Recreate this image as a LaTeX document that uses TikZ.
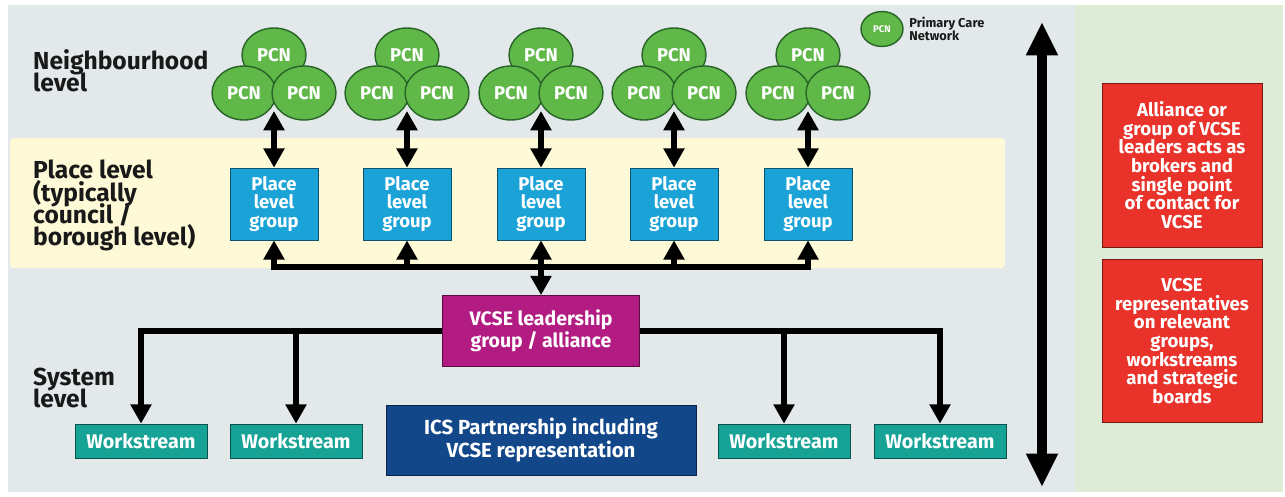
\documentclass[tikz,border=0pt]{standalone}
\usepackage{fontspec}
\setmainfont{Fira Sans}
\definecolor{panelgrey}{RGB}{227, 233, 235}
\definecolor{panelgreen}{RGB}{222, 235, 214}
\definecolor{placeyellow}{RGB}{254, 249, 214}
\definecolor{pcngreen}{RGB}{95, 184, 72}
\definecolor{pcnedge}{RGB}{40, 100, 40}
\definecolor{placeblue}{RGB}{27, 163, 216}
\definecolor{leadmagenta}{RGB}{178, 28, 130}
\definecolor{icsnavy}{RGB}{18, 72, 138}
\definecolor{wsteal}{RGB}{22, 163, 150}
\definecolor{brokerred}{RGB}{232, 50, 42}
\definecolor{inkdark}{RGB}{25, 25, 25}
\usetikzlibrary{shapes, arrows.meta, positioning, calc}

\begin{document}
\begin{tikzpicture}[x=0.02cm, y=-0.02cm,
  pcn/.style={ellipse, draw=pcnedge, line width=0.8pt, fill=pcngreen, minimum width=1.28cm, minimum height=1.08cm, inner sep=0pt, text=white, font=\fontsize{10.5}{11}\selectfont\bfseries},
  placebox/.style={draw=placeblue!50!black, fill=placeblue, minimum width=1.76cm, minimum height=1.44cm, align=center, text=white, font=\fontsize{10.5}{10.4}\selectfont\bfseries},
  wsbox/.style={draw=wsteal!50!black, fill=wsteal, minimum width=2.64cm, minimum height=0.68cm, text=white, font=\fontsize{11.2}{12}\selectfont\bfseries},
  redbox/.style={draw=brokerred!50!black, fill=brokerred, minimum width=3.2cm, align=center, text=white, font=\fontsize{10.6}{10.6}\selectfont\bfseries},
  levellabel/.style={anchor=north west, align=left, text=inkdark, font={\fontsize{14}{12.6}\selectfont\lineskiplimit-6pt\relax\bfseries}},
  link/.style={line width=3pt, -{Triangle[width=11.5pt, length=11pt]}},
  dlink/.style={line width=3pt, {Triangle[width=11.5pt, length=11pt]}-{Triangle[width=11.5pt, length=11pt]}},
]
  \useasboundingbox (0,0) rectangle (1285,497);

  % Background panels
  \fill[panelgrey] (8,5) rectangle (1075,492);
  \fill[panelgreen] (1075,5) rectangle (1283,492);
  \fill[placeyellow, rounded corners=2pt] (10,138) rectangle (1005,268);

  % Level labels
  \node[levellabel] (nbhd) at (27,43) {Neighbourhood\\level};
  \node[levellabel] (placelbl) at (27,154) {Place level\\(typically\\council /\\borough level)};
  \node[levellabel] (syslbl) at (27,362) {System\\level};

  % Legend
  \node[pcn, minimum width=0.84cm, minimum height=0.7cm, font=\fontsize{5.5}{6}\selectfont\bfseries] (legpcn) at (882,29) {PCN};
  \node[right=3pt of legpcn, align=left, inner sep=0pt, text=inkdark, font=\fontsize{7.3}{7.3}\selectfont\bfseries] (legtext) {Primary Care\\Network};

  % PCN clusters
  \node[pcn] (pcn1a) at (274,55) {PCN};
  \node[pcn] (pcn1b) at (244,93) {PCN};
  \node[pcn] (pcn1c) at (304,93) {PCN};
  \node[pcn] (pcn2a) at (407,55) {PCN};
  \node[pcn] (pcn2b) at (377,93) {PCN};
  \node[pcn] (pcn2c) at (437,93) {PCN};
  \node[pcn] (pcn3a) at (541,55) {PCN};
  \node[pcn] (pcn3b) at (511,93) {PCN};
  \node[pcn] (pcn3c) at (571,93) {PCN};
  \node[pcn] (pcn4a) at (674,55) {PCN};
  \node[pcn] (pcn4b) at (644,93) {PCN};
  \node[pcn] (pcn4c) at (704,93) {PCN};
  \node[pcn] (pcn5a) at (808,55) {PCN};
  \node[pcn] (pcn5b) at (778,93) {PCN};
  \node[pcn] (pcn5c) at (838,93) {PCN};
  \coordinate (pcn1) at (274,111);
  \coordinate (pcn2) at (407,111);
  \coordinate (pcn3) at (541,111);
  \coordinate (pcn4) at (674,111);
  \coordinate (pcn5) at (808,111);

  % Place level groups
  \node[placebox] (pl1) at (274,204) {Place\\level\\group};
  \node[placebox] (pl2) at (407,204) {Place\\level\\group};
  \node[placebox] (pl3) at (541,204) {Place\\level\\group};
  \node[placebox] (pl4) at (674,204) {Place\\level\\group};
  \node[placebox] (pl5) at (808,204) {Place\\level\\group};

  \draw[dlink] (pcn1) -- (pl1);
  \draw[dlink] (pcn2) -- (pl2);
  \draw[dlink] (pcn3) -- (pl3);
  \draw[dlink] (pcn4) -- (pl4);
  \draw[dlink] (pcn5) -- (pl5);

  % VCSE leadership and bus to place groups
  \node[draw=leadmagenta!50!black, fill=leadmagenta, minimum width=3.94cm, minimum height=1.42cm, align=center, text=white, font=\fontsize{11.1}{10.8}\selectfont\bfseries] (lead) at (541,331) {VCSE leadership\\group / alliance};
  \coordinate (bus) at (541,267);
  \draw[link] (bus) -| (pl1);
  \draw[link] (bus) -| (pl2);
  \draw[link] (bus) -| (pl4);
  \draw[link] (bus) -| (pl5);
  \draw[dlink] (pl3) -- (lead);

  % System level
  \node[wsbox] (ws1) at (141,441) {Workstream};
  \node[wsbox] (ws2) at (296,441) {Workstream};
  \node[wsbox] (ws3) at (784,441) {Workstream};
  \node[wsbox] (ws4) at (940,441) {Workstream};
  \node[draw=icsnavy!50!black, fill=icsnavy, minimum width=6.2cm, minimum height=1.4cm, align=center, text=white, font=\fontsize{11.6}{10.4}\selectfont\bfseries] (ics) at (541,440) {ICS Partnership including\\VCSE representation};

  \draw[link] (lead.west) -| (ws1);
  \draw[link] (lead.west) -| (ws2);
  \draw[link] (lead.east) -| (ws3);
  \draw[link] (lead.east) -| (ws4);

  % Vertical scale arrow
  \coordinate (scaletop) at (1042,22);
  \coordinate (scalebot) at (1042,487);
  \draw[line width=5.7pt, {Triangle[width=17pt, length=19pt]}-{Triangle[width=17pt, length=19pt]}] (scaletop) -- (scalebot);

  % VCSE role boxes
  \node[redbox, minimum height=3.28cm] (broker) at (1182,165) {Alliance or\\group of VCSE\\leaders acts as\\brokers and\\single point\\of contact for\\VCSE};
  \node[redbox, minimum height=3.26cm] (reps) at (1182,341) {VCSE\\representatives\\on relevant\\groups,\\workstreams\\and strategic\\boards};
\end{tikzpicture}
\end{document}
